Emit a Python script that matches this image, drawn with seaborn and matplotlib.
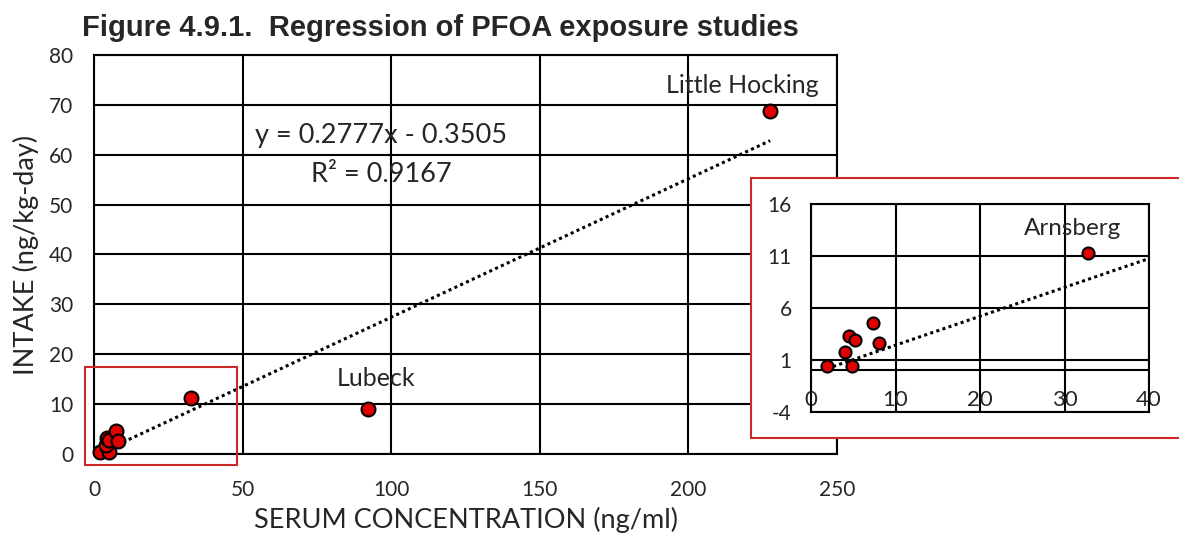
import numpy as np
import pandas as pd
import matplotlib
matplotlib.use("Agg")
import matplotlib.pyplot as plt
import matplotlib.patches as patches
import seaborn as sns

# Datos
serum = [1.9, 4.9, 4.0, 4.5, 5.2, 7.3, 8.0, 32.8, 92.3, 227.5]
intake = [0.4, 0.4, 1.8, 3.3, 2.9, 4.6, 2.6, 11.3, 9.0, 68.7]
study = ["", "", "", "", "", "", "", "Arnsberg", "Lubeck", "Little Hocking"]

slope = 0.2777
intercept = -0.3505
r2 = 0.9167

main_xticks = [0, 50, 100, 150, 200, 250]
main_yticks = [0, 10, 20, 30, 40, 50, 60, 70, 80]
inset_xticks = [0, 10, 20, 30, 40]
inset_yticks = [-4, 1, 6, 11, 16]

title = "Figure 4.9.1.  Regression of PFOA exposure studies"
xlabel = "SERUM CONCENTRATION (ng/ml)"
ylabel = "INTAKE (ng/kg-day)"

RED = "#e00000"
BOX = "#cc2a2a"
CAL = ["Lato", "DejaVu Sans"]


def draw_points(ax, df, size):
    sns.scatterplot(data=df, x="serum", y="intake", ax=ax, s=size,
                    color=RED, edgecolor="black", linewidth=1.5,
                    zorder=5, clip_on=False, legend=False)


def draw_trend(ax, df, lw):
    xs = np.array([df["serum"].min(), df["serum"].max()])
    trend = pd.DataFrame({"x": xs, "y": slope * xs + intercept})
    sns.lineplot(data=trend, x="x", y="y", ax=ax, color="black",
                 linewidth=lw, linestyle=(0, (1, 1.1)), zorder=4)


def style_grid(ax, lw):
    ax.grid(True, color="black", linewidth=lw)
    ax.set_axisbelow(True)
    for s in ax.spines.values():
        s.set_color("black")
        s.set_linewidth(lw)
    ax.set_xlabel("")
    ax.set_ylabel("")


def main():
    sns.set_style("white")
    plt.rcParams["font.family"] = CAL
    plt.rcParams["axes.unicode_minus"] = False

    df = pd.DataFrame({"serum": serum, "intake": intake, "study": study})

    fig = plt.figure(figsize=(11.79, 5.35), dpi=100)
    W, H = 1179, 535

    # 1. GRAFICO PRINCIPAL
    ax = fig.add_axes([94 / W, 1 - 454 / H, 743 / W, 399 / H])
    draw_trend(ax, df, 2.2)
    draw_points(ax, df, 100)
    ax.set_xlim(0, 250)
    ax.set_ylim(0, 80)
    ax.set_xticks(main_xticks)
    ax.set_yticks(main_yticks)
    style_grid(ax, 1.5)
    ax.tick_params(axis="x", length=0, pad=19, labelsize=15)
    ax.tick_params(axis="y", length=0, pad=15, labelsize=15)

    # etiquetas de ejes (la del eje x queda pegada al borde inferior)
    ax.set_xlabel(xlabel, fontsize=19.5, va="baseline")
    ax.xaxis.set_label_coords(0.5, -0.1855)
    ax.set_ylabel(ylabel, fontsize=19.5)
    ax.yaxis.set_label_coords(-0.074, 0.5)

    ax.text(96.6, 63.8, f"y = {slope}x - {abs(intercept)}", fontsize=19.5,
            ha="center", va="center")
    ax.text(96.6, 56.1, f"R² = {r2}", fontsize=19.5, ha="center", va="center")

    offsets = {"Little Hocking": (-28, 18), "Lubeck": (8, 23)}
    for _, row in df[df["study"].isin(list(offsets))].iterrows():
        ax.annotate(row["study"], (row["serum"], row["intake"]),
                    xytext=offsets[row["study"]], textcoords="offset pixels",
                    ha="center", va="baseline", fontsize=18)

    # recuadro rojo de la zona ampliada
    ax.add_patch(patches.Rectangle((-3.0, -2.2), 51, 19.6, fill=False,
                                   edgecolor=BOX, linewidth=1.5, clip_on=False,
                                   zorder=6))

    fig.text(82 / W, 1 - 36 / H, title, fontsize=21, fontweight="bold",
             family=["Liberation Sans"], ha="left", va="baseline")

    # 2. PANEL AMPLIADO
    panel = fig.add_axes([751 / W, 1 - 438 / H, 440 / W, 260 / H])
    panel.set_zorder(3)
    panel.set_facecolor("white")
    panel.set_xticks([])
    panel.set_yticks([])
    for s in panel.spines.values():
        s.set_color(BOX)
        s.set_linewidth(1.5)

    ins = fig.add_axes([811 / W, 1 - 412 / H, 338 / W, 208 / H])
    ins.set_zorder(4)
    draw_trend(ins, df, 2.2)
    draw_points(ins, df[df["serum"] < 40], 75)
    ins.set_xlim(0, 40)
    ins.set_ylim(-4, 16)
    ins.set_xticks(inset_xticks)
    ins.set_yticks(inset_yticks)
    style_grid(ins, 1.5)
    ins.axhline(0, color="black", linewidth=1.5, zorder=1)
    ins.tick_params(axis="x", length=0, pad=-16, labelsize=16)
    ins.tick_params(axis="y", length=0, pad=14, labelsize=15)
    for lbl in ins.get_xticklabels():
        lbl.set_zorder(6)

    for _, row in df[df["study"] == "Arnsberg"].iterrows():
        ins.annotate(row["study"], (row["serum"], row["intake"]),
                     xytext=(-16, 18), textcoords="offset pixels",
                     ha="center", va="baseline", fontsize=17.5)

    plt.savefig("out.png", dpi=100, facecolor="white")


if __name__ == "__main__":
    main()
